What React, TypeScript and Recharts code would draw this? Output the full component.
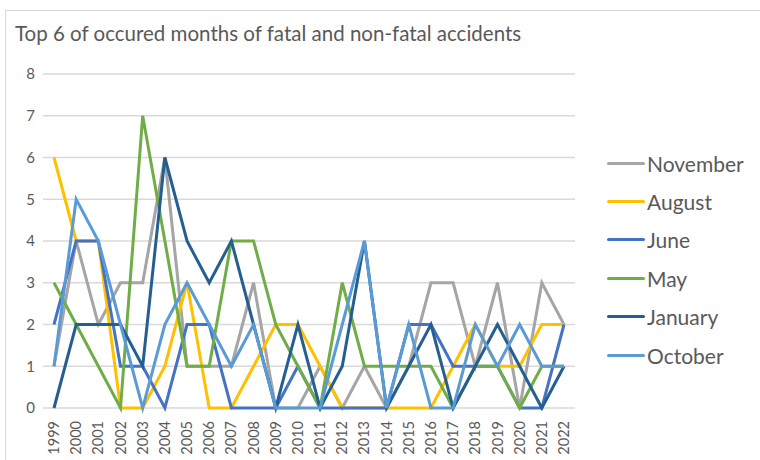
import { CartesianGrid, Line, LineChart, XAxis, YAxis } from "recharts";

const YEARS = [
	"1999", "2000", "2001", "2002", "2003", "2004", "2005", "2006", "2007", "2008", "2009", "2010",
	"2011", "2012", "2013", "2014", "2015", "2016", "2017", "2018", "2019", "2020", "2021", "2022",
];

const NOVEMBER = [1, 4, 2, 3, 3, 6, 1, 1, 1, 3, 0, 0, 1, 0, 1, 0, 1, 3, 3, 1, 3, 0, 3, 2];
const AUGUST = [6, 4, 4, 0, 0, 1, 3, 0, 0, 1, 2, 2, 1, 0, 0, 0, 0, 0, 1, 2, 1, 1, 2, 2];
const JUNE = [2, 4, 4, 1, 1, 0, 2, 2, 0, 0, 0, 1, 0, 0, 0, 0, 2, 2, 1, 1, 1, 0, 0, 2];
const MAY = [3, 2, 1, 0, 7, 4, 1, 1, 4, 4, 2, 1, 0, 3, 1, 1, 1, 1, 0, 1, 1, 0, 1, 1];
const JANUARY = [0, 2, 2, 2, 1, 6, 4, 3, 4, 2, 0, 2, 0, 1, 4, 0, 1, 2, 0, 1, 2, 1, 0, 1];
const OCTOBER = [1, 5, 4, 2, 0, 2, 3, 2, 1, 2, 0, 0, 0, 2, 4, 0, 2, 0, 0, 2, 1, 2, 1, 1];

const Y_TICKS = [0, 1, 2, 3, 4, 5, 6, 7, 8];

const SERIES = [
	{ key: "November", values: NOVEMBER, color: "#A5A5A5" },
	{ key: "August", values: AUGUST, color: "#FFC000" },
	{ key: "June", values: JUNE, color: "#4472C4" },
	{ key: "May", values: MAY, color: "#70AD47" },
	{ key: "January", values: JANUARY, color: "#255E91" },
	{ key: "October", values: OCTOBER, color: "#5B9BD5" },
];

const data = YEARS.map((year, i) => {
	const row: Record<string, string | number> = { year };
	SERIES.forEach((s) => {
		row[s.key] = s.values[i];
	});
	return row;
});

const FONT = "Lato, 'Open Sans', sans-serif";
const TEXT = "#595959";

function YearTick({ x, y, payload }: any) {
	return (
		<text
			x={x}
			y={y + 5}
			transform={`rotate(-90, ${x}, ${y + 5})`}
			textAnchor="end"
			dy="0.35em"
			fontSize={14.5}
			fontFamily={FONT}
			fill={TEXT}
		>
			{payload.value}
		</text>
	);
}

export default function App() {
	return (
		<div
			style={{
				position: "fixed",
				left: 0,
				top: 0,
				width: 760,
				height: 460,
				background: "#fff",
				overflow: "hidden",
				fontFamily: FONT,
			}}
		>
			<div
				style={{
					position: "absolute",
					left: 5,
					top: 10,
					width: 780,
					height: 480,
					border: "1px solid #D9D9D9",
				}}
			/>
			<div style={{ position: "absolute", left: 15, top: 21, fontSize: 20.5, color: TEXT }}>
				Top 6 of occured months of fatal and non-fatal accidents
			</div>
			<div style={{ position: "absolute", left: 0, top: 0 }}>
				<LineChart width={760} height={460} data={data} margin={{ top: 74, right: 185, bottom: 2, left: 8 }}>
					<CartesianGrid vertical={false} stroke="#D9D9D9" strokeWidth={1.5} />
					<XAxis
						dataKey="year"
						interval={0}
						padding={{ left: 11, right: 11 }}
						axisLine={false}
						tickLine={false}
						height={50}
						tick={<YearTick />}
					/>
					<YAxis
						domain={[0, 8]}
						ticks={Y_TICKS}
						width={35}
						axisLine={false}
						tickLine={false}
						tick={{ fontSize: 15, fill: TEXT, fontFamily: FONT }}
					/>
					{SERIES.map((s) => (
						<Line
							key={s.key}
							type="linear"
							dataKey={s.key}
							stroke={s.color}
							strokeWidth={3}
							dot={false}
							isAnimationActive={false}
						/>
					))}
				</LineChart>
			</div>
			<div style={{ position: "absolute", left: 607, top: 144 }}>
				{SERIES.map((s) => (
					<div key={s.key} style={{ display: "flex", alignItems: "center", height: 38.4 }}>
						<div style={{ width: 38, height: 3, background: s.color, borderRadius: 2 }} />
						<span style={{ marginLeft: 2, fontSize: 21, color: TEXT }}>{s.key}</span>
					</div>
				))}
			</div>
		</div>
	);
}
